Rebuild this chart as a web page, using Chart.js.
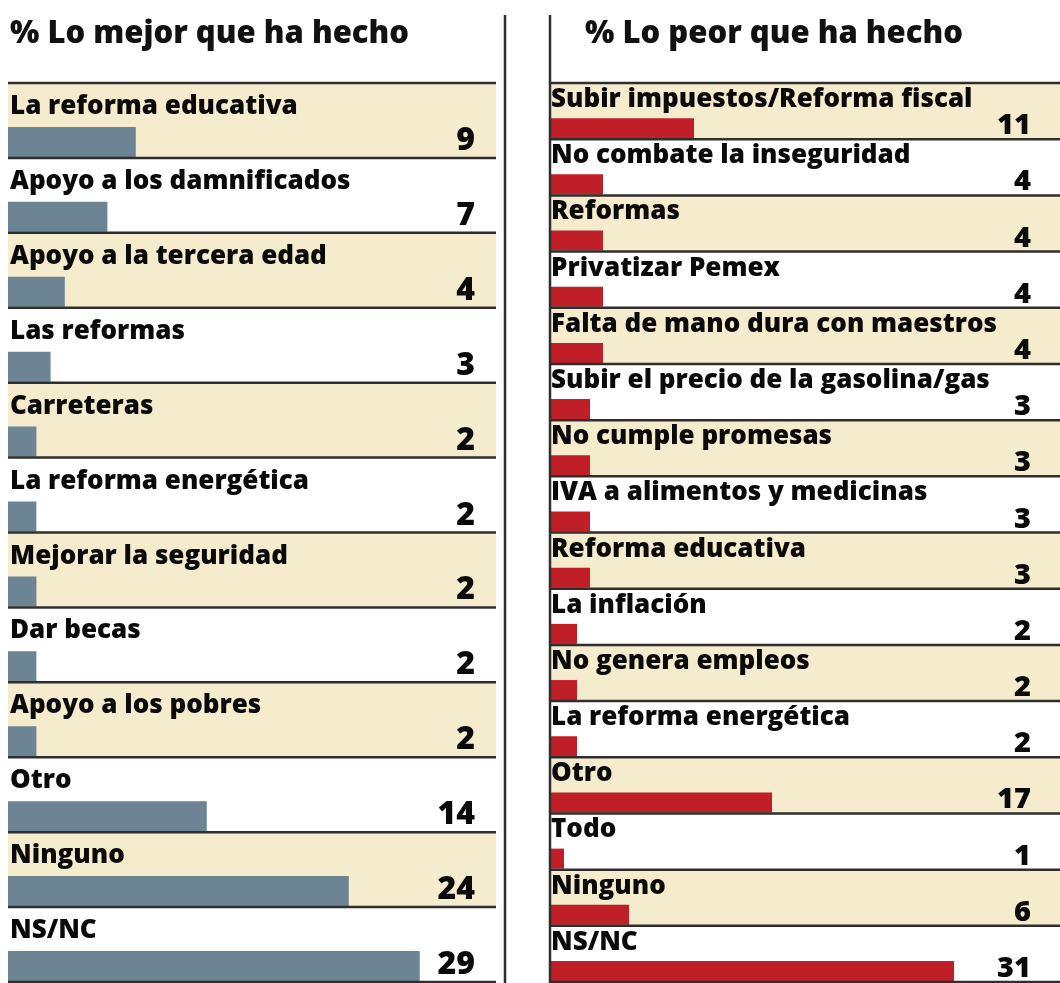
<!DOCTYPE html>
<html><head><meta charset="utf-8">
<script src="https://cdn.jsdelivr.net/npm/chart.js@4.4.1/dist/chart.umd.min.js"></script>
<style>
html,body{margin:0;padding:0;background:#fff;width:1060px;height:983px;overflow:hidden;}
#wrap{position:relative;width:1060px;height:983px;}
canvas{position:absolute;top:0;}
.title{position:absolute;top:11px;font-weight:800;font-size:31px;font-family:"Open Sans","Noto Sans",sans-serif;color:#111;white-space:nowrap;line-height:40px;}
</style></head><body>
<div id="wrap">
<canvas id="left" width="530" height="983" style="left:0"></canvas>
<canvas id="right" width="530" height="983" style="left:530px"></canvas>
<div class="title" style="left:10px">% Lo mejor que ha hecho</div>
<div class="title" style="left:585px">% Lo peor que ha hecho</div>
</div>
<script>
const bestCategories = ["La reforma educativa","Apoyo a los damnificados","Apoyo a la tercera edad","Las reformas","Carreteras","La reforma energética","Mejorar la seguridad","Dar becas","Apoyo a los pobres","Otro","Ninguno","NS/NC"];
const bestValues = [9,7,4,3,2,2,2,2,2,14,24,29];
const worstCategories = ["Subir impuestos/Reforma fiscal","No combate la inseguridad","Reformas","Privatizar Pemex","Falta de mano dura con maestros","Subir el precio de la gasolina/gas","No cumple promesas","IVA a alimentos y medicinas","Reforma educativa","La inflación","No genera empleos","La reforma energética","Otro","Todo","Ninguno","NS/NC"];
const worstValues = [11,4,4,4,4,3,3,3,3,2,2,2,17,1,6,31];

const FONT = '"Open Sans", "Noto Sans", sans-serif';

function rowPlugin(cfg){
  return {
    id:'rows',
    beforeDatasetsDraw(chart){
      const {ctx, chartArea:a, scales:{y}} = chart;
      const n = chart.data.labels.length;
      const band = (a.bottom - a.top)/n;
      ctx.save();
      ctx.fillStyle = cfg.stripe;
      for(let i=0;i<n;i++){
        if(i%2===0){
          const top = y.getPixelForValue(i) - band/2;
          ctx.fillRect(a.left, top, a.right - a.left, band);
        }
      }
      ctx.restore();
      ctx.save();
      ctx.translate(0, band*(0.5 - cfg.barPct/2) - 1);
    },
    afterDatasetsDraw(chart){
      const {ctx, chartArea:a, scales:{y}} = chart;
      ctx.restore();
      const n = chart.data.labels.length;
      const band = (a.bottom - a.top)/n;
      ctx.save();
      ctx.strokeStyle = '#2e2e2e';
      ctx.lineWidth = 2.5;
      for(let i=0;i<=n;i++){
        const yy = (i<n ? y.getPixelForValue(i) - band/2 : y.getPixelForValue(n-1) + band/2);
        ctx.beginPath(); ctx.moveTo(cfg.lineLeft, yy); ctx.lineTo(a.right, yy); ctx.stroke();
      }
      ctx.beginPath(); ctx.moveTo(cfg.vline, 15); ctx.lineTo(cfg.vline, 983); ctx.stroke();
      ctx.fillStyle = '#0a0a0a';
      ctx.textBaseline = 'alphabetic';
      const vals = chart.data.datasets[0].data;
      for(let i=0;i<n;i++){
        const top = y.getPixelForValue(i) - band/2;
        ctx.font = '800 ' + cfg.labelSize + 'px ' + FONT;
        ctx.textAlign = 'left';
        ctx.fillText(chart.data.labels[i], cfg.labelX, top + cfg.labelDy);
        ctx.font = '800 ' + cfg.valueSize + 'px ' + FONT;
        ctx.textAlign = 'right';
        ctx.fillText(String(vals[i]), cfg.valueX, top + band - cfg.valueDy);
      }
      ctx.restore();
    }
  };
}

function makeChart(id, labels, values, color, max, pad, cfg){
  return new Chart(document.getElementById(id), {
    type:'bar',
    data:{labels:labels, datasets:[{data:values, backgroundColor:color, borderWidth:0, barPercentage:cfg.barPct, categoryPercentage:1}]},
    options:{
      indexAxis:'y', responsive:false, animation:false,
      layout:{padding:pad},
      plugins:{legend:{display:false}, tooltip:{enabled:false}, title:{display:false}},
      scales:{
        x:{display:false, min:0, max:max},
        y:{display:false}
      }
    },
    plugins:[rowPlugin(cfg)]
  });
}

makeChart('left', bestCategories, bestValues, '#6d8494', 34.37,
  {left:8, right:34, top:83, bottom:1},
  {stripe:'#f5ebcd', barPct:0.4, lineLeft:8, vline:505, labelX:10, labelDy:31, labelSize:26, valueX:475, valueDy:8, valueSize:32});
makeChart('right', worstCategories, worstValues, '#c01f27', 39.15,
  {left:21, right:0, top:83, bottom:1},
  {stripe:'#f5ebcd', barPct:0.356, lineLeft:20, vline:20, labelX:21, labelDy:24, labelSize:26, valueX:501, valueDy:5, valueSize:29});
</script>
</body></html>
